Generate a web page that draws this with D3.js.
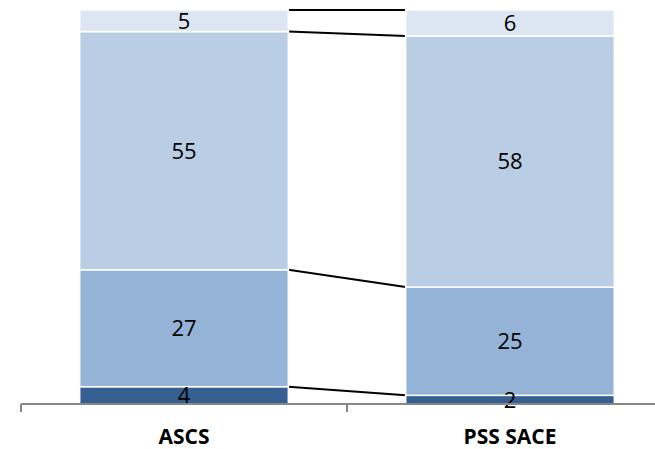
<!DOCTYPE html>
<html>
<head>
<meta charset="utf-8">
<script src="https://cdn.jsdelivr.net/npm/d3@7"></script>
<style>
  html, body { margin: 0; padding: 0; background: #fff; }
  svg { display: block; }
</style>
</head>
<body>
<svg id="chart" width="655" height="449"></svg>
<script>
// Categories and stacked segment values (bottom to top)
const categories = ["ASCS", "PSS SACE"];
const seriesNames = ["s1", "s2", "s3", "s4"];
const s1 = [4, 2];
const s2 = [27, 25];
const s3 = [55, 58];
const s4 = [5, 6];
const seriesColors = ["#376092", "#95b3d7", "#b9cde5", "#dce6f2"];

const rows = categories.map((c, i) => ({
  cat: c, s1: s1[i], s2: s2[i], s3: s3[i], s4: s4[i]
}));

const svg = d3.select("#chart");
const axisY = 404;
const font = "'Open Sans', 'Liberation Sans', sans-serif";

const x = d3.scaleBand()
  .domain(categories)
  .range([21, 673])
  .paddingInner(0)
  .paddingOuter(0);
const barPad = 0.18; // fraction of band left empty on each side
const barW = x.bandwidth() * (1 - 2 * barPad);
const barX = c => x(c) + x.bandwidth() * barPad;

const y = d3.scaleLinear().domain([0, 93.3]).range([axisY, 0]);

const stacked = d3.stack().keys(seriesNames)(rows);

// Connector lines between the cumulative tops of each segment
const g = svg.append("g");
stacked.forEach(layer => {
  g.append("line")
    .attr("x1", barX(categories[0]) + barW)
    .attr("y1", y(layer[0][1]))
    .attr("x2", barX(categories[1]))
    .attr("y2", y(layer[1][1]))
    .attr("stroke", "#000")
    .attr("stroke-width", 2);
});

// Bars
stacked.forEach((layer, li) => {
  g.selectAll(null)
    .data(layer)
    .join("rect")
    .attr("x", d => barX(d.data.cat))
    .attr("y", d => y(d[1]))
    .attr("width", barW)
    .attr("height", d => y(d[0]) - y(d[1]))
    .attr("fill", seriesColors[li])
    .attr("stroke", "#fff")
    .attr("stroke-width", 1.5);
});

// Segment value labels
stacked.forEach(layer => {
  g.selectAll(null)
    .data(layer)
    .join("text")
    .attr("x", d => barX(d.data.cat) + barW / 2)
    .attr("y", d => (y(d[0]) + y(d[1])) / 2)
    .attr("dy", "0.36em")
    .attr("text-anchor", "middle")
    .attr("font-family", font)
    .attr("font-size", 22)
    .attr("fill", "#000")
    .text(d => d[1] - d[0]);
});

// Category axis
const axis = svg.append("g")
  .attr("transform", `translate(0,${axisY})`);
axis.append("line")
  .attr("x1", x.range()[0]).attr("x2", x.range()[1])
  .attr("y1", 0).attr("y2", 0)
  .attr("stroke", "#868686").attr("stroke-width", 2);
const tickPos = categories.map(c => x(c)).concat([x.range()[1]]);
axis.selectAll(".tick")
  .data(tickPos)
  .join("line")
  .attr("x1", d => d).attr("x2", d => d)
  .attr("y1", 0).attr("y2", 8)
  .attr("stroke", "#868686").attr("stroke-width", 2);
axis.selectAll(".lbl")
  .data(categories)
  .join("text")
  .attr("x", d => x(d) + x.bandwidth() / 2)
  .attr("y", 40)
  .attr("text-anchor", "middle")
  .attr("font-family", font)
  .attr("font-weight", "bold")
  .attr("font-size", 21)
  .attr("fill", "#000")
  .text(d => d);
</script>
</body>
</html>
